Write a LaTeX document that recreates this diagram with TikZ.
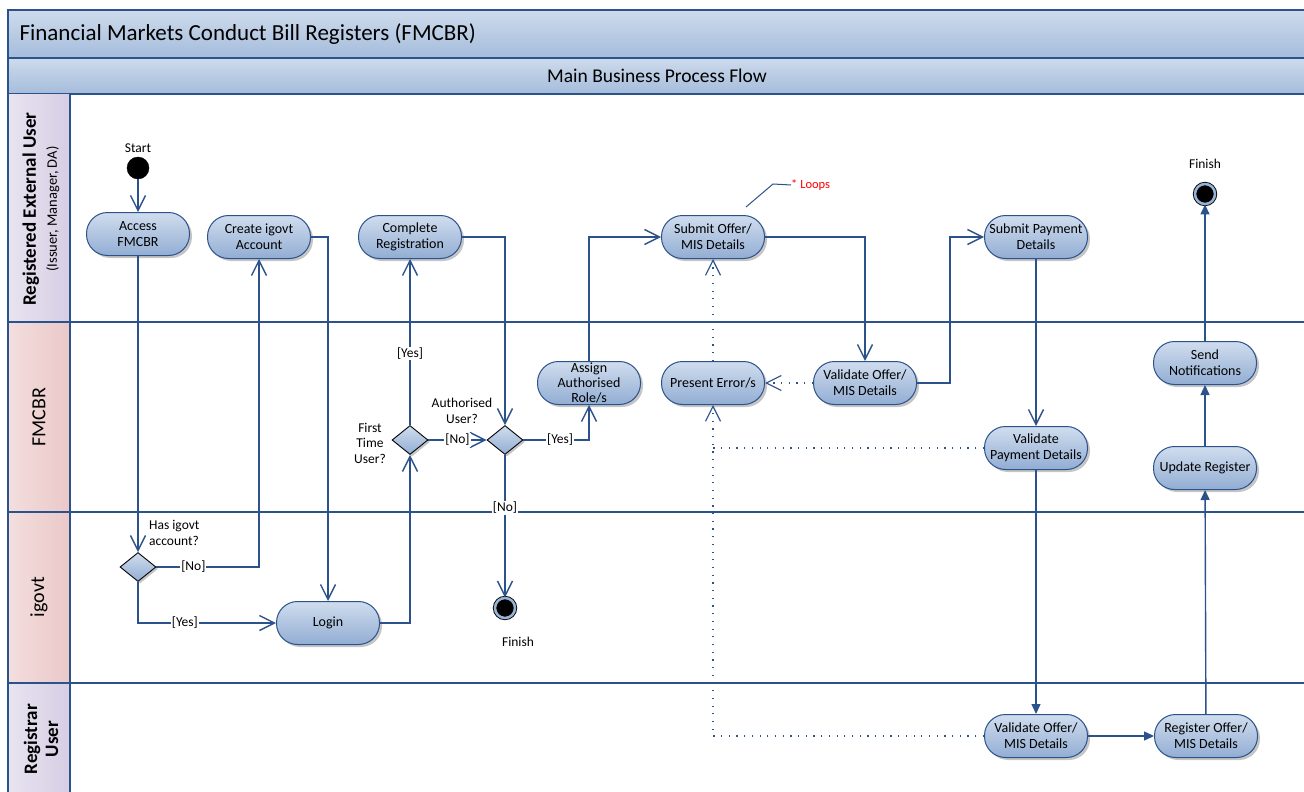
\documentclass[tikz,border=0pt]{standalone}
\usepackage{fontspec}
\setmainfont{Carlito}
\usepackage{tikz}
\usetikzlibrary{positioning}
\usetikzlibrary{shapes.geometric}
\usetikzlibrary{arrows.meta}
\usetikzlibrary{shadows}

\definecolor{linecol}{RGB}{44,82,140}
\definecolor{nodetop}{RGB}{208,221,238}
\definecolor{nodebot}{RGB}{146,173,211}
\definecolor{bandtop}{RGB}{206,219,236}
\definecolor{bandbot}{RGB}{164,188,219}
\definecolor{lavlight}{RGB}{232,228,240}
\definecolor{lavdark}{RGB}{214,206,228}
\definecolor{pinklight}{RGB}{244,222,222}
\definecolor{pinkdark}{RGB}{234,200,200}
\definecolor{ringcol}{RGB}{150,180,215}

\begin{document}
\begin{tikzpicture}[x=1pt,y=-1pt,
	act/.style={rectangle, rounded corners=21pt, draw=linecol, line width=1pt,
		top color=nodetop, bottom color=nodebot, minimum width=103pt,
		minimum height=43pt, inner sep=1pt, align=center,
		font=\fontsize{14}{16}\selectfont,
		drop shadow={shadow xshift=2.5pt, shadow yshift=-2.5pt, fill=black!45}},
	dec/.style={diamond, draw=black, line width=0.9pt, top color=nodetop,
		bottom color=nodebot, minimum width=36pt, minimum height=29pt,
		inner sep=0pt,
		drop shadow={shadow xshift=2pt, shadow yshift=-2pt, fill=black!45}},
	startdot/.style={circle, draw=black, fill=black, minimum size=22pt, inner sep=0pt},
	finishdot/.style={circle, draw=black, fill=black, minimum size=20pt, inner sep=0pt,
		line width=0.9pt, double=ringcol, double distance=2.5pt},
	lbl/.style={fill=white, inner sep=1pt, font=\fontsize{13.5}{15}\selectfont},
	txt/.style={inner sep=0pt, font=\fontsize{13.5}{15.5}\selectfont, align=center},
	flow/.style={draw=linecol, line width=1.4pt, -{Straight Barb[length=15pt,width=15pt]}},
	fflow/.style={draw=linecol, line width=1.4pt, -{Triangle[length=10pt,width=9pt]}},
	dots/.style={draw=linecol, line width=1.2pt, dash pattern=on 1.2pt off 6.5pt,
		-{Straight Barb[length=15pt,width=15pt]}},
	border/.style={draw=linecol, line width=1.3pt}]
\useasboundingbox (0,0) rectangle (1304,792);

% title bands
\draw[border, top color=bandtop, bottom color=bandbot] (8,10) rectangle (1306,58);
\draw[border, top color=bandtop, bottom color=bandbot] (8,58) rectangle (1306,94);
\node[anchor=west, font=\fontsize{23}{26}\selectfont] (title) at (16,34) {Financial Markets Conduct Bill Registers (FMCBR)};
\node[font=\fontsize{19.5}{22}\selectfont] (subtitle) at (657,76) {Main Business Process Flow};

% lanes
\fill[left color=lavlight, right color=lavdark] (8,94) rectangle (70,322);
\fill[left color=pinklight, right color=pinkdark] (8,322) rectangle (70,512);
\fill[left color=pinklight, right color=pinkdark] (8,512) rectangle (70,683);
\fill[left color=lavlight, right color=lavdark] (8,683) rectangle (70,794);
\draw[border] (8,94) -- (8,794);
\draw[border] (70,94) -- (70,794);
\draw[border] (8,322) -- (1306,322);
\draw[border] (8,512) -- (1306,512);
\draw[border] (8,683) -- (1306,683);

\node[rotate=90, align=center, font=\bfseries\fontsize{19}{22}\selectfont] (laneuser) at (41,209)
	{Registered External User\\[-1pt]{\mdseries\fontsize{14.5}{16}\selectfont (Issuer, Manager, DA)}};
\node[rotate=90, font=\fontsize{20}{22}\selectfont] (lanefmcbr) at (39,417) {FMCBR};
\node[rotate=90, font=\fontsize{20}{22}\selectfont] (laneigovt) at (39,597) {igovt};
\node[rotate=90, align=center, font=\bfseries\fontsize{19}{21}\selectfont] (lanereg) at (41,739) {Registrar\\User};

% registered external user
\node[startdot] (start) at (138,168) {};
\node[txt, above=4pt of start] (starttxt) {Start};
\node[act] (access) at (138,234) {Access\\FMCBR};
\node[act] (create) at (259,237) {Create igovt\\Account};
\node[act] (complete) at (410,237) {Complete\\Registration};
\node[act] (suboffer) at (713,237) {Submit Offer/\\MIS Details};
\node[act] (subpay) at (1036,237) {Submit Payment\\Details};
\node[finishdot] (fin2) at (1205,194) {};
\node[txt] (fin2txt) at (1205,164) {Finish};
\coordinate (lp) at (746,207);
\node[anchor=west, inner sep=0pt, text=red, font=\fontsize{12.5}{14}\selectfont] (loops) at (791,185) {* Loops};

% fmcbr
\node[dec] (first) at (410,440) {};
\node[txt] (firsttxt) at (370,443) {First\\Time\\User?};
\node[dec] (auth) at (505,440) {};
\node[txt] (authtxt) at (462,411) {Authorised\\User?};
\node[act, inner sep=0pt, font=\fontsize{14}{15}\selectfont] (assign) at (589,383) {Assign\\Authorised\\Role/s};
\node[act] (error) at (713,383) {Present Error/s};
\node[act] (valoffer) at (865,383) {Validate Offer/\\MIS Details};
\node[act] (valpay) at (1036,448) {Validate\\Payment Details};
\node[act] (send) at (1205,363) {Send\\Notifications};
\node[act] (update) at (1205,468) {Update Register};

% igovt
\node[dec] (hasacc) at (138,567) {};
\node[txt, anchor=west, align=left] (hasacctxt) at (149,533) {Has igovt\\account?};
\node[act] (login) at (328,623) {Login};
\node[finishdot] (fin1) at (505,608) {};
\node[txt] (fin1txt) at (518,642) {Finish};

% registrar user
\node[act] (regval) at (1036,736) {Validate Offer/\\MIS Details};
\node[act, right=66pt of regval] (register) {Register Offer/\\MIS Details};

% connectors
\draw[flow] (start) -- (access);
\draw[flow] (access) -- (hasacc);
\draw[flow] (hasacc.east) -| node[lbl, pos=0.18]{[No]} (create);
\draw[flow] (hasacc.south) |- node[lbl, pos=0.67]{[Yes]} (login);
\draw[flow] (create.east) -| (login);
\draw[flow] (login.east) -| (first.south);
\draw[flow] (first.north) -- node[lbl, pos=0.43]{[Yes]} (complete);
\draw[flow] (first.east) -- node[lbl]{[No]} (auth.west);
\draw[flow] (complete.east) -| (auth.north);
\draw[flow] (auth.east) -| node[lbl, pos=0.28]{[Yes]} (assign);
\draw[flow] (auth.south) -- node[lbl, pos=0.37]{[No]} (fin1);
\draw[flow] (assign.north) |- (suboffer.west);
\draw[flow] (suboffer.east) -| (valoffer.north);
\draw[flow] (valoffer.east) -- ++(33,0) |- (subpay.west);
\draw[dots] (valoffer.west) -- (error.east);
\draw[dots] (error.north) -- (suboffer.south);
\draw[dots, -] (valpay.west) -- (valpay.west -| error.south);
\draw[dots] (regval.west) -| (error.south);
\draw[flow] (subpay) -- (valpay);
\draw[fflow] (valpay) -- (regval);
\draw[fflow] (regval) -- (register);
\draw[fflow] (register) -- (update);
\draw[fflow] (update) -- (send);
\draw[fflow] (send) -- (fin2);
\draw[draw=linecol, line width=1pt] (lp) -- ++(27,-23) -- (loops.west);
\end{tikzpicture}
\end{document}
